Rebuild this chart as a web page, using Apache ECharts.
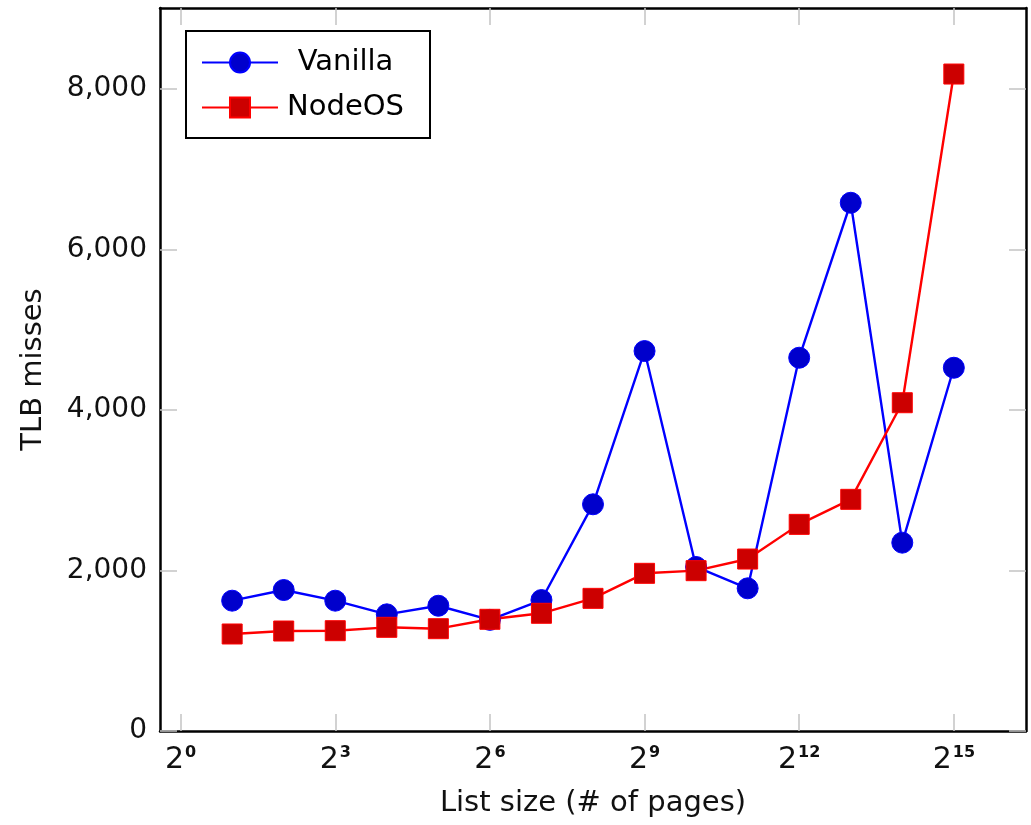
<!DOCTYPE html>
<html>
<head>
<meta charset="utf-8">
<script src="https://cdn.jsdelivr.net/npm/echarts@6/dist/echarts.min.js"></script>
<style>
  html, body { margin: 0; padding: 0; background: #fff; }
  #tlbChart { width: 1031px; height: 825px; }
</style>
</head>
<body>
<div id="tlbChart"></div>
<script>
// list size exponents (2^n pages)
var exponents = [1, 2, 3, 4, 5, 6, 7, 8, 9, 10, 11, 12, 13, 14, 15];
var vanillaMisses = [1624, 1757, 1624, 1454, 1561, 1385, 1632, 2825, 4735, 2044, 1778, 4652, 6583, 2347, 4527];
var nodeosMisses = [1209, 1246, 1250, 1292, 1275, 1392, 1467, 1653, 1965, 1998, 2143, 2575, 2887, 4091, 8187];
var xTicks = [0, 3, 6, 9, 12, 15];
var yTicks = [0, 2000, 4000, 6000, 8000];

function pairs(ys){
    var out = [];
    for (var i = 0; i < exponents.length; i++) {
        out.push([exponents[i], ys[i]]);
    }
    return out;
}

function withCommas(v){
    return String(v).replace(/\B(?=(\d{3})+(?!\d))/g, ',');
}

var fontName = 'DejaVu Sans';
var tickStyle = { show: true, inside: true, length: 17, lineStyle: { color: '#c4c4c4', width: 1.5 } };
var frameLine = { show: true, onZero: false, lineStyle: { color: '#000', width: 2.5 } };

function tlbChart(){

    var option = {
        animation: false,
        backgroundColor: '#fff',
        textStyle: { fontFamily: fontName },
        grid: {
            left: 160,
            right: 5,
            top: 8,
            bottom: 94
        },
        legend: {
            left: 186,
            top: 31,
            orient: 'vertical',
            padding: [17, 22, 16, 15],
            borderColor: '#000',
            borderWidth: 2,
            itemWidth: 76,
            itemHeight: 25,
            itemGap: 16,
            lineStyle: { width: 2 },
            formatter: function(name){ return '{c|' + name + '}'; },
            textStyle: {
                fontFamily: fontName,
                fontSize: 29,
                color: '#000',
                rich: {
                    c: { fontFamily: fontName, fontSize: 29, color: '#000', lineHeight: 32, width: 125, align: 'center' }
                }
            },
            data: ['Vanilla', 'NodeOS']
        },
        xAxis: [
            {
                type: 'value',
                min: -0.4,
                max: 16.4,
                name: 'List size (# of pages)',
                nameLocation: 'middle',
                nameGap: 58,
                nameTextStyle: { fontFamily: fontName, fontSize: 29, color: '#111' },
                axisLine: frameLine,
                axisTick: Object.assign({ customValues: xTicks }, tickStyle),
                splitLine: { show: false },
                axisLabel: {
                    customValues: xTicks,
                    margin: 14,
                    formatter: function(v){ return '{b|2}{s|' + v + '}'; },
                    rich: {
                        b: { fontFamily: fontName, fontSize: 30, color: '#111' },
                        s: { fontFamily: fontName, fontSize: 16, fontWeight: 'bold', color: '#111', verticalAlign: 'top', padding: [0, 0, 0, 1] }
                    }
                }
            },
            {
                type: 'value',
                position: 'top',
                min: -0.4,
                max: 16.4,
                axisLine: frameLine,
                axisTick: Object.assign({ customValues: xTicks }, tickStyle),
                axisLabel: { show: false },
                splitLine: { show: false }
            }
        ],
        yAxis: [
            {
                type: 'value',
                min: 0,
                max: 9010,
                name: 'TLB misses',
                nameLocation: 'middle',
                nameGap: 112,
                nameTextStyle: { fontFamily: fontName, fontSize: 29, color: '#111' },
                axisLine: frameLine,
                axisTick: Object.assign({ customValues: yTicks }, tickStyle),
                splitLine: { show: false },
                axisLabel: {
                    customValues: yTicks,
                    margin: 13,
                    fontFamily: fontName,
                    fontSize: 28,
                    color: '#111',
                    formatter: withCommas
                }
            },
            {
                type: 'value',
                position: 'right',
                min: 0,
                max: 9010,
                axisLine: frameLine,
                axisTick: Object.assign({ customValues: yTicks }, tickStyle),
                axisLabel: { show: false },
                splitLine: { show: false }
            }
        ],
        series: [
            {
                name: 'Vanilla',
                type: 'line',
                symbol: 'circle',
                symbolSize: 21,
                lineStyle: { color: '#0000ff', width: 2.4 },
                itemStyle: { color: '#0000cc', borderColor: '#0000ff', borderWidth: 1 },
                data: pairs(vanillaMisses)
            },
            {
                name: 'NodeOS',
                type: 'line',
                symbol: 'rect',
                symbolSize: 20,
                lineStyle: { color: '#ff0000', width: 2.4 },
                itemStyle: { color: '#cc0000', borderColor: '#ff0000', borderWidth: 1 },
                data: pairs(nodeosMisses)
            }
        ]
    };

    var chart = echarts.init(document.getElementById('tlbChart'));
    chart.setOption(option);
}

tlbChart();
</script>
</body>
</html>
